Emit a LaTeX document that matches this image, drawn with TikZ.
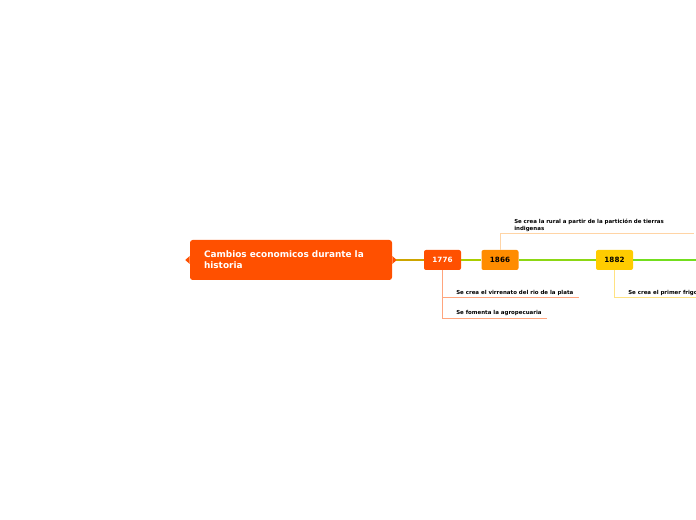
\documentclass[tikz,border=0pt]{standalone}
\usepackage{fontspec}
\setmainfont{DejaVu Sans}
\usetikzlibrary{positioning}

\definecolor{rootred}{RGB}{255,80,0}
\definecolor{midorange}{RGB}{255,140,0}
\definecolor{sunyellow}{RGB}{255,204,0}
\definecolor{lineA}{RGB}{205,165,0}
\definecolor{lineB}{RGB}{170,205,0}
\definecolor{lineC}{RGB}{140,215,20}
\definecolor{lineD}{RGB}{115,222,30}
\definecolor{leafA}{RGB}{255,165,125}
\definecolor{leafB}{RGB}{255,212,165}
\definecolor{leafC}{RGB}{255,226,130}

\begin{document}
\begin{tikzpicture}[
    x=0.75pt, y=-0.75pt,
    root/.style={fill=rootred, rounded corners=2pt, text=white, minimum height=30pt,
        text width=130.5pt, inner xsep=10.5pt, align=left, font=\fontsize{6.7}{8.2}\selectfont\bfseries},
    year/.style={rounded corners=1.5pt, minimum width=27.75pt, minimum height=15pt,
        inner sep=0pt, font=\fontsize{5.4}{6}\selectfont\bfseries},
    leaf/.style={inner sep=0pt, font=\fontsize{4.1}{5.2}\selectfont\bfseries},
    trunk/.style={line width=1.5pt},
    twig/.style={line width=0.6pt}]
\useasboundingbox (0,0) rectangle (696,520);
\clip (0,0) rectangle (696,520);

\node[root] (root) at (291,260) {Cambios economicos durante la\\historia};
\fill[rootred] ([yshift=3pt]root.west) -- ++(-4.5,4) -- ([yshift=-3pt]root.west) -- cycle;
\fill[rootred] ([yshift=3pt]root.east) -- ++(4.5,4) -- ([yshift=-3pt]root.east) -- cycle;

\node[year, fill=rootred, text=white] (y1776) at (442.5,260) {1776};
\node[year, fill=midorange] (y1866) at (500,260) {1866};
\node[year, fill=sunyellow] (y1882) at (614.5,260) {1882};
\coordinate (beyond) at (720,260);

\draw[trunk, lineA] ([xshift=3pt]root.east) -- (y1776.west);
\draw[trunk, lineB] (y1776) -- (y1866);
\draw[trunk, lineC] (y1866) -- (y1882);
\draw[trunk, lineD] (y1882) -- (beyond);

% hojas
\node[leaf, anchor=base west] (virreinato) at (456,294.5) {Se crea el virrenato del rio de la plata};
\node[leaf, anchor=base west] (agro) at (456,314.5) {Se fomenta la agropecuaria};
\node[leaf, anchor=south west, text width=130.5pt, align=left] (rural) at (514,231.5)
    {Se crea la rural a partir de la partición de tierras\\indigenas};
\node[leaf, anchor=base west] (frigo) at (628,294.5) {Se crea el primer frigorífico};

\draw[twig, leafA] (y1776.south) |- ([shift={(5,2.5)}]virreinato.base east);
\draw[twig, leafA] (y1776.south) |- ([shift={(5,3.5)}]agro.base east);
\draw[twig, leafB] (y1866.north) |- ([shift={(5,1.5)}]rural.south east);
\draw[twig, leafC] (y1882.south) |- ([shift={(5,2.5)}]frigo.base east);
\end{tikzpicture}
\end{document}
